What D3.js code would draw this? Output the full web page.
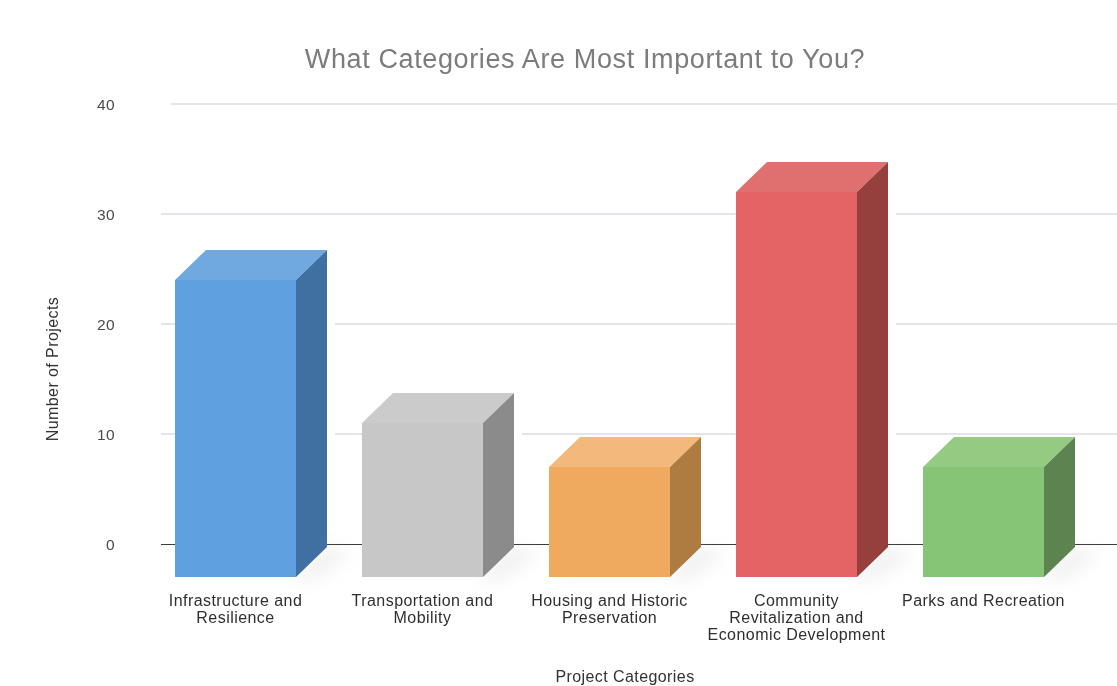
<!DOCTYPE html>
<html>
<head>
<meta charset="utf-8">
<title>What Categories Are Most Important to You?</title>
<script src="https://cdn.jsdelivr.net/npm/d3@7"></script>
<style>
  html, body { margin: 0; padding: 0; background: #fff; }
  svg { display: block; }
  text { font-family: "Liberation Sans", Arial, sans-serif; }
  .domain { display: none; }
</style>
</head>
<body>
<div id="chart"></div>
<script>
// Chart values
const categories = [
  'Infrastructure and Resilience',
  'Transportation and Mobility',
  'Housing and Historic Preservation',
  'Community Revitalization and Economic Development',
  'Parks and Recreation'
];
const categoryLines = [
  ['Infrastructure and', 'Resilience'],
  ['Transportation and', 'Mobility'],
  ['Housing and Historic', 'Preservation'],
  ['Community', 'Revitalization and', 'Economic Development'],
  ['Parks and Recreation']
];
const projectCounts = [27, 14, 10, 35, 10];
const yTicks = [0, 10, 20, 30, 40];

const frontColors = ['#5fa1e0', '#c7c7c7', '#f0aa5e', '#e46465', '#86c574'];
const topColors = ['#6fa9df', '#cbcbcb', '#f3b97a', '#e0706f', '#95ca82'];
const sideColors = ['#3f70a2', '#8b8b8b', '#ae7c3f', '#953f3d', '#5d8351'];

const width = 1117;
const height = 686;
const depthX = 31;
const depthY = 30;
const frontBase = 577; // front face sits below the zero line because of the 3D floor

const svg = d3.select('#chart')
  .append('svg')
  .attr('width', width)
  .attr('height', height);

const defs = svg.append('defs');
defs.append('filter').attr('id', 'soft')
  .append('feGaussianBlur').attr('stdDeviation', 0.5);
defs.append('filter').attr('id', 'shadow')
  .attr('x', '-50%').attr('y', '-50%').attr('width', '200%').attr('height', '200%')
  .append('feGaussianBlur').attr('stdDeviation', 9);
defs.append('filter').attr('id', 'textSoft')
  .append('feGaussianBlur').attr('stdDeviation', 0.3);

const x = d3.scaleBand()
  .domain(categories)
  .range([142, 1077])
  .paddingInner(0.353)
  .paddingOuter(0.1765);

const y = d3.scaleLinear()
  .domain([0, 40])
  .range([544, 104]);

const frontTop = (i) => frontBase - (y(0) - y(projectCounts[i]));
const points = (list) => list.map((p) => p.join(',')).join(' ');

// Title
svg.append('text')
  .attr('x', 585)
  .attr('y', 68)
  .attr('text-anchor', 'middle')
  .attr('font-size', 27)
  .attr('letter-spacing', 0.62)
  .attr('fill', '#7b7b7b')
  .attr('filter', 'url(#textSoft)')
  .text('What Categories Are Most Important to You?');

// Gridlines
svg.append('g')
  .selectAll('line')
  .data(yTicks.filter((d) => d !== 0))
  .enter()
  .append('line')
  .attr('x1', (d) => (d === 40 ? 171 : 161))
  .attr('x2', width)
  .attr('y1', (d) => y(d))
  .attr('y2', (d) => y(d))
  .attr('stroke', '#dadde3')
  .attr('stroke-width', 1.5);

// Gridlines stop a little short of each bar's right side
svg.append('g')
  .selectAll('rect')
  .data(categories)
  .enter()
  .append('rect')
  .attr('x', (d) => x(d) + x.bandwidth() + depthX)
  .attr('y', (d, i) => frontTop(i) - depthY)
  .attr('width', 8)
  .attr('height', (d, i) => frontBase - frontTop(i))
  .attr('fill', '#fff');

// Zero line
svg.append('line')
  .attr('x1', 161)
  .attr('x2', width)
  .attr('y1', y(0))
  .attr('y2', y(0))
  .attr('stroke', '#3c3c3c')
  .attr('stroke-width', 1)
  .attr('shape-rendering', 'crispEdges');

// Y axis labels
const yAxis = svg.append('g')
  .attr('transform', 'translate(123,1)')
  .call(d3.axisLeft(y).tickValues(yTicks).tickSize(0).tickPadding(8));
yAxis.selectAll('text')
  .attr('font-size', 15.5)
  .attr('letter-spacing', 0.4)
  .attr('fill', '#4a4a4a')
  .attr('filter', 'url(#textSoft)');

// Y axis title
svg.append('text')
  .attr('transform', 'translate(58,369) rotate(-90)')
  .attr('text-anchor', 'middle')
  .attr('font-size', 16)
  .attr('letter-spacing', 0.42)
  .attr('fill', '#333')
  .attr('filter', 'url(#textSoft)')
  .text('Number of Projects');

// X axis labels, wrapped the way the original wraps them
const xAxis = svg.append('g')
  .attr('transform', 'translate(0,590)')
  .call(d3.axisBottom(x).tickSize(0).tickPadding(0));
xAxis.selectAll('.tick text')
  .attr('font-size', 16)
  .attr('letter-spacing', 0.45)
  .attr('fill', '#2f2f2f')
  .attr('filter', 'url(#textSoft)')
  .each(function(d) {
    const lines = categoryLines[categories.indexOf(d)];
    const label = d3.select(this).text(null).attr('y', 0).attr('dy', null);
    lines.forEach((line, i) => {
      label.append('tspan')
        .attr('x', 0)
        .attr('y', 16 + i * 17)
        .text(line);
    });
  });

// X axis title
svg.append('text')
  .attr('x', 625)
  .attr('y', 682)
  .attr('text-anchor', 'middle')
  .attr('font-size', 16)
  .attr('letter-spacing', 0.42)
  .attr('fill', '#333')
  .attr('filter', 'url(#textSoft)')
  .text('Project Categories');

// Bars
const bars = svg.selectAll('.bar')
  .data(categories)
  .enter()
  .append('g')
  .attr('class', 'bar');

// Soft floor shadow
bars.append('polygon')
  .attr('points', (d) => {
    const l = x(d) + x.bandwidth();
    return points([[l - 6, frontBase + 2], [l + depthX, frontBase - depthY], [l + depthX + 24, frontBase - depthY + 6], [l + 16, frontBase + 3]]);
  })
  .attr('fill', '#9a9a9a')
  .attr('opacity', 0.16)
  .attr('filter', 'url(#shadow)');

const boxes = bars.append('g').attr('filter', 'url(#soft)');

// Top face
boxes.append('polygon')
  .attr('points', (d, i) => {
    const l = x(d);
    const r = l + x.bandwidth();
    const t = frontTop(i);
    return points([[l, t], [l + depthX, t - depthY], [r + depthX, t - depthY], [r, t]]);
  })
  .attr('fill', (d, i) => topColors[i]);

// Side face
boxes.append('polygon')
  .attr('points', (d, i) => {
    const r = x(d) + x.bandwidth();
    const t = frontTop(i);
    return points([[r, t], [r + depthX, t - depthY], [r + depthX, frontBase - depthY], [r, frontBase]]);
  })
  .attr('fill', (d, i) => sideColors[i]);

// Front face
boxes.append('rect')
  .attr('x', (d) => x(d))
  .attr('y', (d, i) => frontTop(i))
  .attr('width', x.bandwidth())
  .attr('height', (d, i) => frontBase - frontTop(i))
  .attr('fill', (d, i) => frontColors[i]);
</script>
</body>
</html>
